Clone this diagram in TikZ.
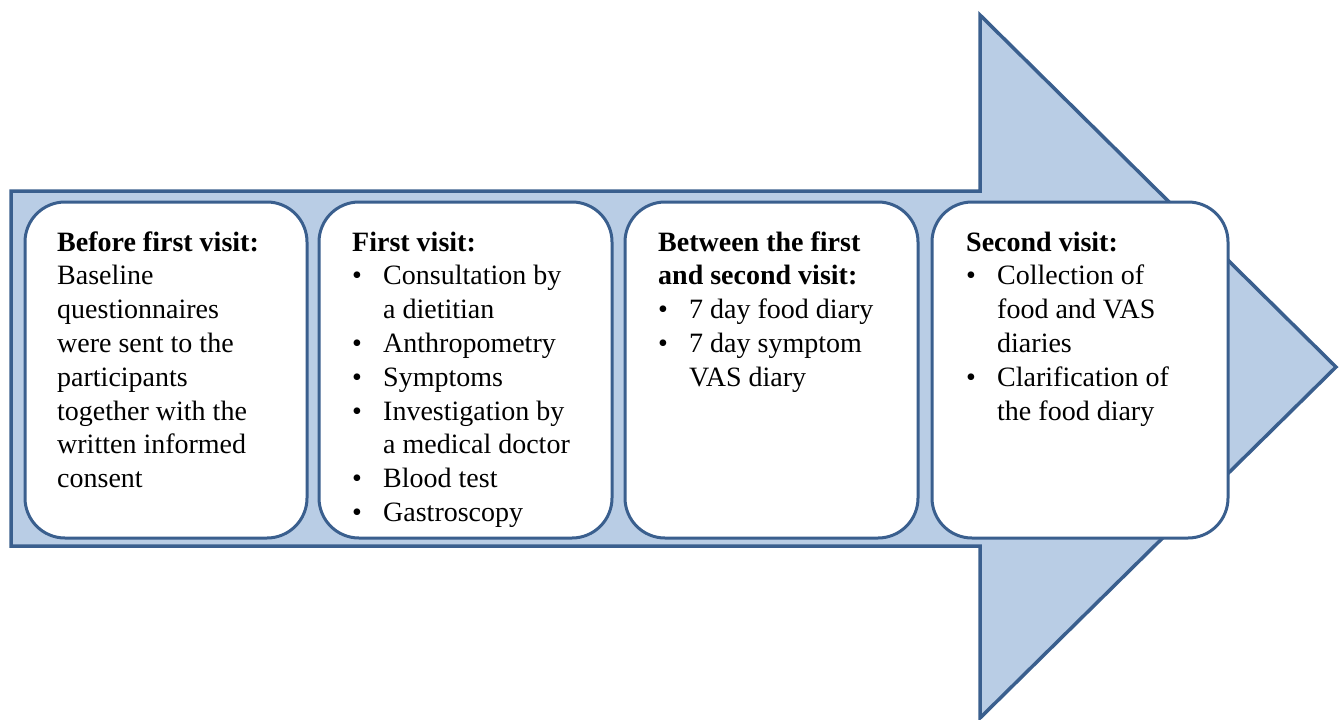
\documentclass[tikz,border=0pt]{standalone}
\usepackage{fontspec}
\setmainfont{LiberationSerif}[Extension=.ttf, UprightFont=*-Regular, BoldFont=*-Bold, ItalicFont=*-Italic, BoldItalicFont=*-BoldItalic]
\definecolor{arrowfill}{HTML}{B9CDE5}
\definecolor{arrowline}{HTML}{3A5F8E}
\tikzset{
  bigarrow/.style={draw=arrowline, fill=arrowfill, line width=3.5pt, line join=miter},
  stagebox/.style={draw=arrowline, fill=white, line width=3pt, rounded corners=40pt, minimum height=336pt},
  stagetext/.style={anchor=base west, inner sep=0pt, font=\fontsize{28}{33.8}\selectfont},
}
\newcommand{\bitem}{\makebox[31pt][l]{\textbullet}}
\newcommand{\bcont}{\hspace*{31pt}}
\begin{document}
\begin{tikzpicture}[x=1pt,y=-1pt]
\useasboundingbox (0,0) rectangle (1344,720);
% big arrow
\draw[bigarrow] (11,191) -- (980,191) -- (980,15) -- (1336,367) -- (980,718) -- (980,546) -- (11,546) -- cycle;
% stage boxes
\node[stagebox, minimum width=282pt] (b1) at (166,370) {};
\node[stagebox, minimum width=293pt] (b2) at (465.5,370) {};
\node[stagebox, minimum width=293pt] (b3) at (771.5,370) {};
\node[stagebox, minimum width=296pt] (b4) at (1080,370) {};
% texts
\node[stagetext] (t1) at (57,251) {\parbox[t]{260pt}{\textbf{Before first visit:}\\
Baseline\\
questionnaires\\
were sent to the\\
participants\\
together with the\\
written informed\\
consent}};
\node[stagetext] (t2) at (352,251) {\parbox[t]{260pt}{\textbf{First visit:}\\
\bitem Consultation by\\
\bcont a dietitian\\
\bitem Anthropometry\\
\bitem Symptoms\\
\bitem Investigation by\\
\bcont a medical doctor\\
\bitem Blood test\\
\bitem Gastroscopy}};
\node[stagetext] (t3) at (658,251) {\parbox[t]{260pt}{\textbf{Between the first}\\
\textbf{and second visit:}\\
\bitem 7 day food diary\\
\bitem 7 day symptom\\
\bcont VAS diary}};
\node[stagetext] (t4) at (966,251) {\parbox[t]{260pt}{\textbf{Second visit:}\\
\bitem Collection of\\
\bcont food and VAS\\
\bcont diaries\\
\bitem Clarification of\\
\bcont the food diary}};
\end{tikzpicture}
\end{document}
